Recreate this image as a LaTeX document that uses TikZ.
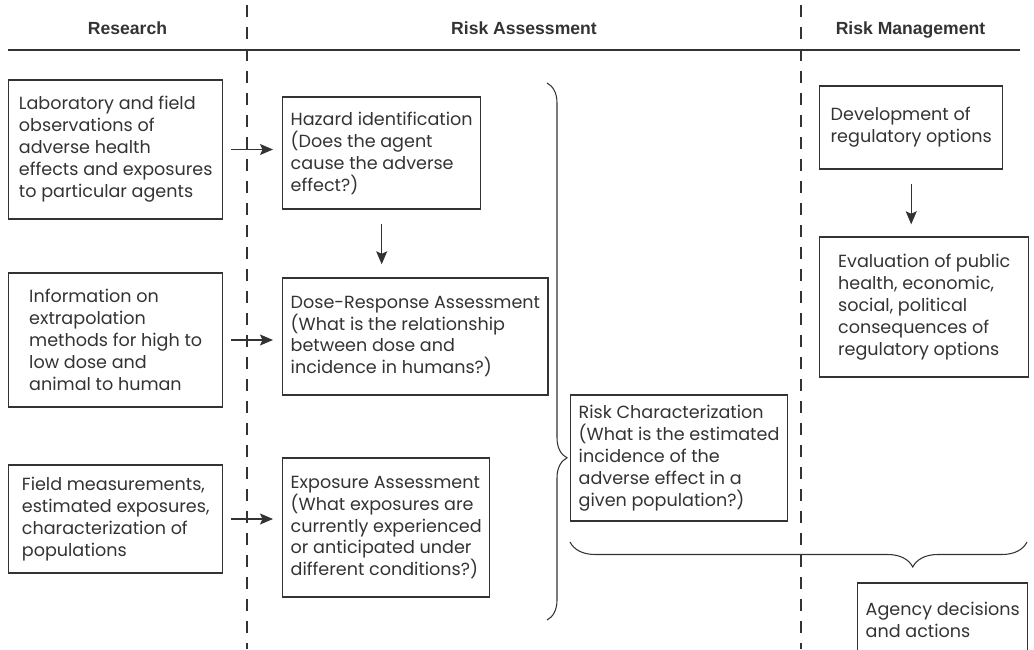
\documentclass[tikz,border=0pt]{standalone}
\usepackage{fontspec}
\setmainfont{Poppins}
\newfontfamily\headfont{Liberation Sans}
\usetikzlibrary{arrows.meta, decorations.pathreplacing}
\definecolor{rsink}{HTML}{333333}

\begin{document}
\begin{tikzpicture}[
    >=Stealth,
    box/.style={
        draw=rsink, line width=0.8pt, anchor=west, align=left,
        inner xsep=0.16cm, inner ysep=0pt, text=rsink,
        font=\fontsize{10}{12.5}\selectfont
    },
    srcbox/.style={ box, minimum width=4.28cm },
    head/.style={font=\headfont\bfseries\fontsize{10}{12}\selectfont,
        text=rsink, anchor=base},
    flow/.style={->, draw=rsink, line width=0.6pt,
        >={Stealth[length=0.26cm, width=0.22cm, inset=0.05cm]}},
    divider/.style={draw=rsink, line width=0.8pt, dash pattern=on 0.24cm off 0.2cm},
    bracket/.style={draw=rsink, line width=0.6pt, decorate},
]
\useasboundingbox (0,0) rectangle (20.68,12.98);

% ---- column heads and dividers ----
\node[head] (research) at (2.55, 12.29) {Research};
\node[head] (assess) at (10.48, 12.29) {Risk Assessment};
\node[head] (manage) at (18.21, 12.29) {Risk Management};
\draw[rsink, line width=0.9pt] (0.16, 11.98) -- (20.40, 11.98);
\draw[divider] (4.94, 12.88) -- (4.94, 0);
\draw[divider] (16.02, 12.88) -- (16.02, 0);

% ---- research column ----
\node[srcbox, minimum height=2.78cm] (lab) at (0.16, 9.99)
    {Laboratory and field\\ observations of\\ adverse health\\ effects and exposures\\ to particular agents};
\node[srcbox, minimum height=2.68cm] (info) at (0.16, 6.18)
    {Information on\\ extrapolation\\ methods for high to\\ low dose and\\ animal to human};
\node[srcbox, minimum height=2.16cm] (field) at (0.16, 2.60)
    {Field measurements,\\ estimated exposures,\\ characterization of\\ populations};

% ---- risk assessment column ----
\node[box, minimum height=2.24cm] (hazard) at (5.64, 9.92)
    {Hazard identification\\ (Does the agent\\ cause the adverse\\ effect?)};
\node[box, minimum height=2.34cm] (dose) at (5.64, 6.25)
    {Dose-Response Assessment\\ (What is the relationship\\ between dose and\\ incidence in humans?)};
\node[box, minimum height=2.78cm] (expo) at (5.64, 2.43)
    {Exposure Assessment\\ (What exposures are\\ currently experienced\\ or anticipated under\\ different conditions?)};
\node[box, minimum height=2.52cm] (riskchar) at (11.40, 3.82)
    {Risk Characterization\\ (What is the estimated\\ incidence of the\\ adverse effect in a\\ given population?)};

% ---- risk management column ----
\node[box, minimum height=1.66cm, minimum width=3.66cm] (options) at (16.38, 10.43)
    {Development of\\ regulatory options};
\node[box, minimum height=2.80cm, minimum width=4.18cm] (evaluate) at (16.38, 6.84)
    {Evaluation of public\\ health, economic,\\ social, political\\ consequences of\\ regulatory options};
\node[box, minimum height=1.48cm] (decide) at (17.14, 0.58)
    {Agency decisions\\ and actions};

% ---- arrows ----
\draw[flow, shorten <=0.15cm, shorten >=0.18cm] (lab.east) -- (lab.east -| hazard.west);
\draw[flow, shorten <=0.15cm, shorten >=0.18cm] (info.east) -- (info.east -| dose.west);
\draw[flow, shorten <=0.15cm, shorten >=0.18cm] (field.east) -- (field.east -| expo.west);
\draw[flow, shorten <=0.28cm, shorten >=0.26cm] (hazard.south) -- (hazard.south |- dose.north);
\draw[flow, shorten <=0.28cm, shorten >=0.24cm] (options.south) -- (options.south |- evaluate.north);

% ---- braces ----
\coordinate (bracetop) at (10.94, 11.32);
\coordinate (bracebot) at (10.94, 0.58);
\draw[bracket, decoration={brace, amplitude=0.4cm, aspect=0.698}] (bracetop) -- (bracebot);
\coordinate (bracer) at (20.54, 2.14);
\coordinate (bracel) at (11.40, 2.14);
\draw[bracket, decoration={brace, amplitude=0.5cm, aspect=0.25}] (bracer) -- (bracel);

\end{tikzpicture}
\end{document}
